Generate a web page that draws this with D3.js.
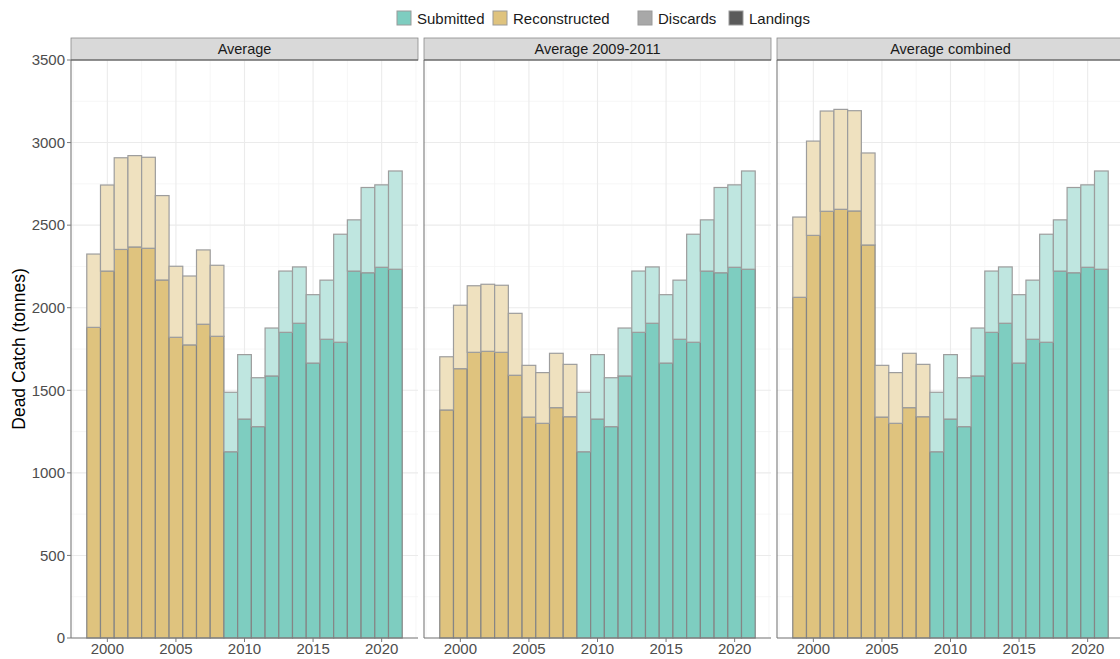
<!DOCTYPE html>
<html>
<head>
<meta charset="utf-8">
<script src="https://cdn.jsdelivr.net/npm/d3@7"></script>
<style>
  html, body { margin: 0; padding: 0; background: #fff; }
  svg { display: block; font-family: "Liberation Sans", Arial, sans-serif; }
</style>
</head>
<body>
<div id="chart"></div>
<script>
// ---------------------------------------------------------------------------
// Data (tonnes)
const facets = ['Average', 'Average 2009-2011', 'Average combined'];

const reconYears = [1999, 2000, 2001, 2002, 2003, 2004, 2005, 2006, 2007, 2008];
const submittedYears = [2009, 2010, 2011, 2012, 2013, 2014, 2015, 2016, 2017, 2018, 2019, 2020, 2021];

// reconstructed series, one pair per facet
const avgLandings = [1881, 2222, 2353, 2368, 2360, 2168, 1821, 1775, 1900, 1827];
const avgDiscards = [444, 521, 555, 553, 551, 511, 430, 417, 450, 430];

const avg0911Landings = [1381, 1631, 1730, 1736, 1730, 1591, 1338, 1300, 1395, 1340];
const avg0911Discards = [322, 384, 403, 406, 406, 375, 313, 307, 329, 317];

const combinedLandings = [2063, 2438, 2584, 2596, 2586, 2380, 1338, 1300, 1395, 1340];
const combinedDiscards = [486, 571, 607, 605, 607, 557, 313, 307, 329, 317];

// submitted series, same in every facet
const submittedLandings = [1128, 1326, 1280, 1587, 1851, 1906, 1665, 1809, 1791, 2222, 2212, 2245, 2233];
const submittedDiscards = [360, 390, 296, 290, 371, 341, 414, 358, 654, 310, 516, 499, 595];

const yTicks = [0, 500, 1000, 1500, 2000, 2500, 3000, 3500];
const xTicks = [2000, 2005, 2010, 2015, 2020];

const legendSource = ['Submitted', 'Reconstructed'];
const legendType = ['Discards', 'Landings'];

// ---------------------------------------------------------------------------
// Style
const COLORS = {
  Submitted: '#7ecdc0',
  Reconstructed: '#dfc37e',
  SubmittedLight: '#bfe6e0',
  ReconstructedLight: '#efe1bf',
  Discards: '#a8a8a8',
  Landings: '#5a5a5a'
};

const width = 1120;
const height = 659;
const panelTop = 60;
const panelBottom = 638;
const panelLefts = [71, 424, 777];
const panelWidth = 347;
const stripHeight = 22;

const reconPairs = [
  [avgLandings, avgDiscards],
  [avg0911Landings, avg0911Discards],
  [combinedLandings, combinedDiscards]
];

function buildRows(facetIndex) {
  let rows = [];
  let pair = reconPairs[facetIndex];
  reconYears.forEach((year, i) => {
    rows.push({ year: year, source: 'Reconstructed', landings: pair[0][i], discards: pair[1][i] });
  });
  submittedYears.forEach((year, i) => {
    rows.push({ year: year, source: 'Submitted', landings: submittedLandings[i], discards: submittedDiscards[i] });
  });
  return rows;
}

const svg = d3.select('#chart')
  .append('svg')
  .attr('width', width)
  .attr('height', height);

const y = d3.scaleLinear()
  .domain([0, 3500])
  .range([panelBottom, panelTop]);

const x = d3.scaleLinear()
  .domain([1997.35, 2022.65])
  .range([0, panelWidth]);

const yMinor = d3.range(250, 3500, 500);
const xMinor = [1997.5, 2002.5, 2007.5, 2012.5, 2017.5, 2022.5];

facets.forEach((facet, fi) => {
  const g = svg.append('g')
    .attr('transform', `translate(${panelLefts[fi]},0)`);

  // grid
  g.selectAll('.minor-y')
    .data(yMinor)
    .enter()
    .append('line')
    .attr('x1', 0).attr('x2', panelWidth)
    .attr('y1', d => y(d)).attr('y2', d => y(d))
    .attr('stroke', '#f4f4f4').attr('stroke-width', 0.8);
  g.selectAll('.minor-x')
    .data(xMinor)
    .enter()
    .append('line')
    .attr('x1', d => x(d)).attr('x2', d => x(d))
    .attr('y1', panelTop).attr('y2', panelBottom)
    .attr('stroke', '#f4f4f4').attr('stroke-width', 0.8);
  g.selectAll('.major-y')
    .data(yTicks)
    .enter()
    .append('line')
    .attr('x1', 0).attr('x2', panelWidth)
    .attr('y1', d => y(d)).attr('y2', d => y(d))
    .attr('stroke', '#ebebeb').attr('stroke-width', 1.1);
  g.selectAll('.major-x')
    .data(xTicks)
    .enter()
    .append('line')
    .attr('x1', d => x(d)).attr('x2', d => x(d))
    .attr('y1', panelTop).attr('y2', panelBottom)
    .attr('stroke', '#ebebeb').attr('stroke-width', 1.1);

  const rows = buildRows(fi);

  // landings (bottom of stack)
  g.selectAll('.landings')
    .data(rows)
    .enter()
    .append('rect')
    .attr('x', d => x(d.year - 0.5))
    .attr('width', d => x(d.year + 0.5) - x(d.year - 0.5))
    .attr('y', d => y(d.landings))
    .attr('height', d => y(0) - y(d.landings))
    .attr('fill', d => COLORS[d.source])
    .attr('stroke', '#858585')
    .attr('stroke-width', 1.2);

  // discards stacked on top
  g.selectAll('.discards')
    .data(rows)
    .enter()
    .append('rect')
    .attr('x', d => x(d.year - 0.5))
    .attr('width', d => x(d.year + 0.5) - x(d.year - 0.5))
    .attr('y', d => y(d.landings + d.discards))
    .attr('height', d => y(d.landings) - y(d.landings + d.discards))
    .attr('fill', d => COLORS[d.source + 'Light'])
    .attr('stroke', '#9d9d9d')
    .attr('stroke-width', 1.2);

  // axis lines
  g.append('line')
    .attr('x1', 0).attr('x2', 0)
    .attr('y1', panelTop).attr('y2', panelBottom)
    .attr('stroke', '#7a7a7a').attr('stroke-width', 1.1);
  g.append('line')
    .attr('x1', 0).attr('x2', panelWidth)
    .attr('y1', panelBottom).attr('y2', panelBottom)
    .attr('stroke', '#7a7a7a').attr('stroke-width', 1.1);

  // x axis ticks + labels
  const xt = g.selectAll('.xtick')
    .data(xTicks)
    .enter()
    .append('g')
    .attr('transform', d => `translate(${x(d)},${panelBottom})`);
  xt.append('line')
    .attr('y1', 0).attr('y2', 4)
    .attr('stroke', '#7a7a7a');
  xt.append('text')
    .attr('y', 15.5)
    .attr('text-anchor', 'middle')
    .attr('font-size', 15)
    .attr('fill', '#4d4d4d')
    .text(d => d);

  // strip
  g.append('rect')
    .attr('x', 0)
    .attr('y', panelTop - stripHeight)
    .attr('width', panelWidth)
    .attr('height', stripHeight)
    .attr('fill', '#d9d9d9')
    .attr('stroke', '#8a8a8a')
    .attr('stroke-width', 0.8);
  g.append('line')
    .attr('x1', 0).attr('x2', panelWidth)
    .attr('y1', panelTop).attr('y2', panelTop)
    .attr('stroke', '#555').attr('stroke-width', 1.1);
  g.append('text')
    .attr('x', panelWidth / 2)
    .attr('y', panelTop - 6)
    .attr('text-anchor', 'middle')
    .attr('font-size', 14.5)
    .attr('fill', '#1a1a1a')
    .text(facet);
});

// y axis (first panel only)
const yt = svg.append('g')
  .attr('transform', `translate(${panelLefts[0]},0)`)
  .selectAll('.ytick')
  .data(yTicks)
  .enter()
  .append('g')
  .attr('transform', d => `translate(0,${y(d)})`);
yt.append('line')
  .attr('x1', -4).attr('x2', 0)
  .attr('stroke', '#7a7a7a');
yt.append('text')
  .attr('x', -6)
  .attr('dy', '0.35em')
  .attr('text-anchor', 'end')
  .attr('font-size', 15)
  .attr('fill', '#4d4d4d')
  .text(d => d);

svg.append('text')
  .attr('transform', `translate(25,${(panelTop + panelBottom) / 2}) rotate(-90)`)
  .attr('text-anchor', 'middle')
  .attr('font-size', 17.5)
  .attr('fill', '#000')
  .text('Dead Catch (tonnes)');

// legend
const legendItems = [
  { label: legendSource[0], color: COLORS.Submitted, x: 397 },
  { label: legendSource[1], color: COLORS.Reconstructed, x: 493 },
  { label: legendType[0], color: COLORS.Discards, x: 638 },
  { label: legendType[1], color: COLORS.Landings, x: 729 }
];
const legend = svg.append('g')
  .selectAll('.legend-item')
  .data(legendItems)
  .enter()
  .append('g')
  .attr('transform', d => `translate(${d.x},11)`);
legend.append('rect')
  .attr('width', 14)
  .attr('height', 14)
  .attr('fill', d => d.color)
  .attr('stroke', '#9a9a9a')
  .attr('stroke-width', 1);
legend.append('text')
  .attr('x', 20)
  .attr('y', 12.5)
  .attr('font-size', 15)
  .attr('fill', '#1a1a1a')
  .text(d => d.label);
</script>
</body>
</html>
